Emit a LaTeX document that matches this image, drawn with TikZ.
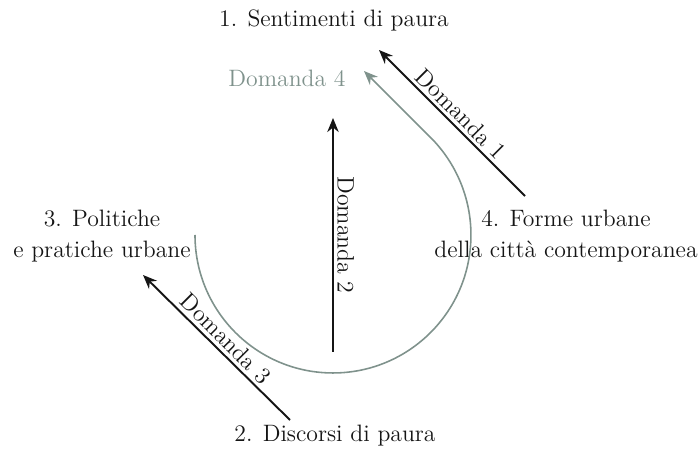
\documentclass[tikz,border=0pt]{standalone}
\usepackage{tikz}
\usetikzlibrary{arrows.meta}
\definecolor{qgrey}{HTML}{7F928C}
\definecolor{qblack}{HTML}{151515}
\tikzset{
  tlabel/.style={font=\fontsize{13.5}{18}\selectfont, align=center, text=qblack, inner sep=0pt},
  qarrow/.style={line width=1.1pt, draw=qblack, -{Stealth[length=8pt, width=6.5pt]}},
  qlabel/.style={font=\fontsize{13.5}{16}\selectfont, text=qblack, inner sep=2pt, anchor=south},
  garrow/.style={line width=0.9pt, draw=qgrey, -{Stealth[length=8pt, width=6.5pt]}}
}

\begin{document}
\begin{tikzpicture}[x=0.02cm, y=0.02cm]
  \useasboundingbox (0,0) rectangle (700,456);
  % the four themes
  \node[tlabel] (T1) at (334,436) {1. Sentimenti di paura};
  \node[tlabel] (T2) at (335,20) {2. Discorsi di paura};
  \node[tlabel] (T3) at (102,220) {3. Politiche\\e pratiche urbane};
  \node[tlabel] (T4) at (566,220) {4. Forme urbane\\della città contemporanea};
  \node[tlabel, text=qgrey] (D4) at (287,378) {Domanda 4};
  % arrow ends
  \coordinate (d1s) at (525,260);
  \coordinate (d1e) at (379,406);
  \coordinate (d2s) at (333,104);
  \coordinate (d2e) at (333,338);
  \coordinate (d3s) at (290,36);
  \coordinate (d3e) at (143,181);
  \coordinate (d4s) at (195,221);
  \coordinate (d4e) at (364,385);
  % questions
  \draw[qarrow] (d1s) -- node[qlabel, rotate=-45] (D1) {Domanda 1} (d1e);
  \draw[qarrow] (d2s) -- node[qlabel, rotate=-90] (D2) {Domanda 2} (d2e);
  \draw[qarrow] (d3s) -- node[qlabel, rotate=-45] (D3) {Domanda 3} (d3e);
  \draw[garrow] (d4s) arc[start angle=180, end angle=405, radius=2.76cm] -- (d4e);
\end{tikzpicture}
\end{document}
